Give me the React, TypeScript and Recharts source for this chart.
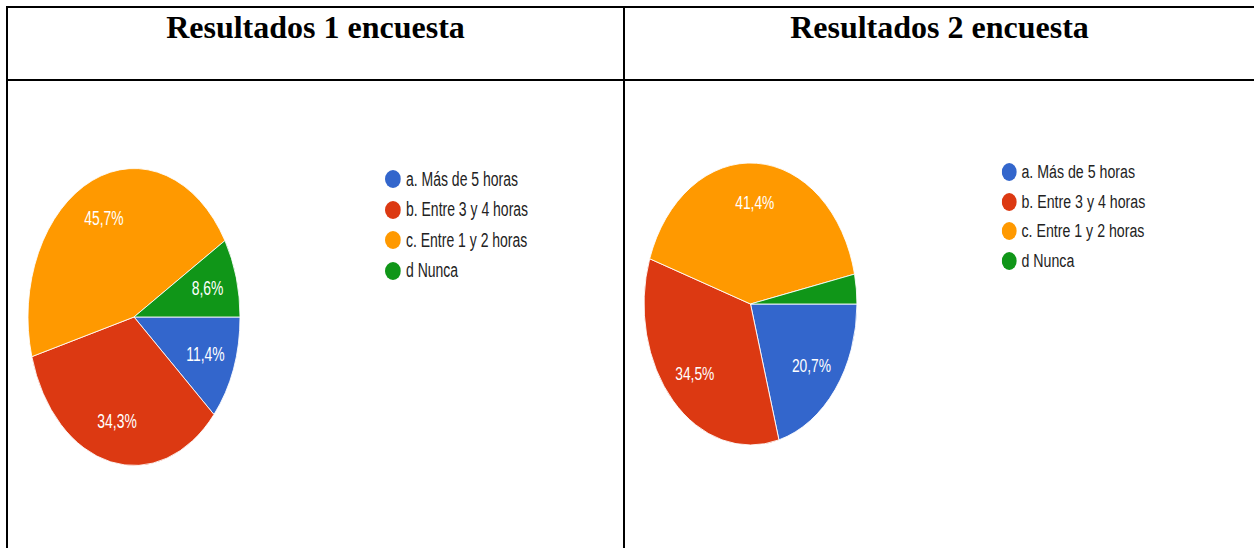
import React from 'react';
import { PieChart, Pie, Cell, Legend } from 'recharts';

const categories = ['a. Más de 5 horas', 'b. Entre 3 y 4 horas', 'c. Entre 1 y 2 horas', 'd Nunca'];
const sliceColors = ['#3366cc', '#dc3912', '#ff9900', '#109618'];
const encuesta1 = [11.4, 34.3, 45.7, 8.6];
const encuesta2 = [20.7, 34.5, 41.4, 3.4];
const titles = ['Resultados 1 encuesta', 'Resultados 2 encuesta'];

const RAD = Math.PI / 180;

type ChartCfg = {
  values: number[];
  left: number;
  top: number;
  width: number;
  height: number;
  scale: number;
  cx: number;
  cy: number;
  radius: number;
  fontSize: number;
  legendFont: number;
  legendLeft: number;
  legendTop: number;
  rowH: number;
  markerW: number;
  markerH: number;
  markerGap: number;
};

function fmt(v: number) {
  return v.toFixed(1).replace('.', ',') + '%';
}

function SurveyPie(c: ChartCfg) {
  const data = categories.map((name, i) => ({ name, value: c.values[i] }));
  const renderLabel = (p: any) => {
    if (p.value < 5) return null;
    const r = p.outerRadius * 0.72;
    const x = p.cx + r * Math.cos(-p.midAngle * RAD);
    const y = p.cy + r * Math.sin(-p.midAngle * RAD);
    return (
      <text x={x} y={y} fill="#ffffff" textAnchor="middle" dominantBaseline="central"
        style={{ fontFamily: 'Arial, "Liberation Sans", sans-serif', fontSize: c.fontSize }}>
        {fmt(p.value)}
      </text>
    );
  };
  const renderLegend = () => (
    <div style={{ fontFamily: 'Arial, "Liberation Sans", sans-serif', fontSize: c.legendFont, color: '#222222' }}>
      {categories.map((name, i) => (
        <div key={name} style={{ height: c.rowH, display: 'flex', alignItems: 'center', whiteSpace: 'nowrap' }}>
          <svg width={c.markerW} height={c.markerH} style={{ marginRight: c.markerGap, flex: 'none' }}>
            <ellipse cx={c.markerW / 2} cy={c.markerH / 2} rx={c.markerW / 2} ry={c.markerH / 2} fill={sliceColors[i]} />
          </svg>
          <span>{name}</span>
        </div>
      ))}
    </div>
  );
  return (
    <div style={{ position: 'absolute', left: c.left, top: c.top, width: c.width, height: c.height, transform: `scaleX(${c.scale})`, transformOrigin: '0 0' }}>
      <PieChart width={c.width} height={c.height} margin={{ top: 0, right: 0, bottom: 0, left: 0 }}>
        <Pie data={data} dataKey="value" nameKey="name" cx={c.cx} cy={c.cy} outerRadius={c.radius}
          startAngle={0} endAngle={-360} stroke="#ffffff" strokeWidth={1}
          label={renderLabel} labelLine={false} isAnimationActive={false}>
          {data.map((d, i) => <Cell key={d.name} fill={sliceColors[i]} />)}
        </Pie>
        <Legend layout="vertical" align="right" verticalAlign="top" content={renderLegend}
          wrapperStyle={{ left: c.legendLeft, top: c.legendTop, right: 'auto', width: 'auto' }} />
      </PieChart>
    </div>
  );
}

const line = (l: number, t: number, w: number, h: number) => (
  <div style={{ position: 'absolute', left: l, top: t, width: w, height: h, background: '#000' }} />
);

export default function App() {
  const s1 = 0.714;
  const s2 = 0.755;
  return (
    <div style={{ position: 'fixed', left: 0, top: 0, width: 1254, height: 548, background: '#fff', overflow: 'hidden' }}>
      <SurveyPie values={encuesta1} left={8} top={81} width={Math.round(615 / s1)} height={467} scale={s1}
        cx={(134 - 8) / s1} cy={317 - 81} radius={148.5} fontSize={19.5} legendFont={19.6}
        legendLeft={(385 - 8) / s1} legendTop={164.3 - 81} rowH={30.4} markerW={16 / s1} markerH={18} markerGap={5 / s1} />
      <SurveyPie values={encuesta2} left={625} top={81} width={Math.round(629 / s2)} height={467} scale={s2}
        cx={(750.5 - 625) / s2} cy={304 - 81} radius={141} fontSize={18.3} legendFont={18.8}
        legendLeft={(1001.5 - 625) / s2} legendTop={157.2 - 81} rowH={29.6} markerW={15 / s2} markerH={18} markerGap={5 / s2} />
      {line(6, 6, 1248, 2)}
      {line(6, 79, 1248, 2)}
      {line(6, 6, 2, 542)}
      {line(623, 6, 2, 542)}
      {titles.map((t, i) => (
        <div key={t} style={{ position: 'absolute', left: i === 0 ? 8 : 625, width: i === 0 ? 615 : 629, top: 11, textAlign: 'center',
          fontFamily: '"Liberation Serif", "Times New Roman", serif', fontWeight: 'bold', fontSize: 32, lineHeight: '32px', color: '#000' }}>
          {t}
        </div>
      ))}
    </div>
  );
}
